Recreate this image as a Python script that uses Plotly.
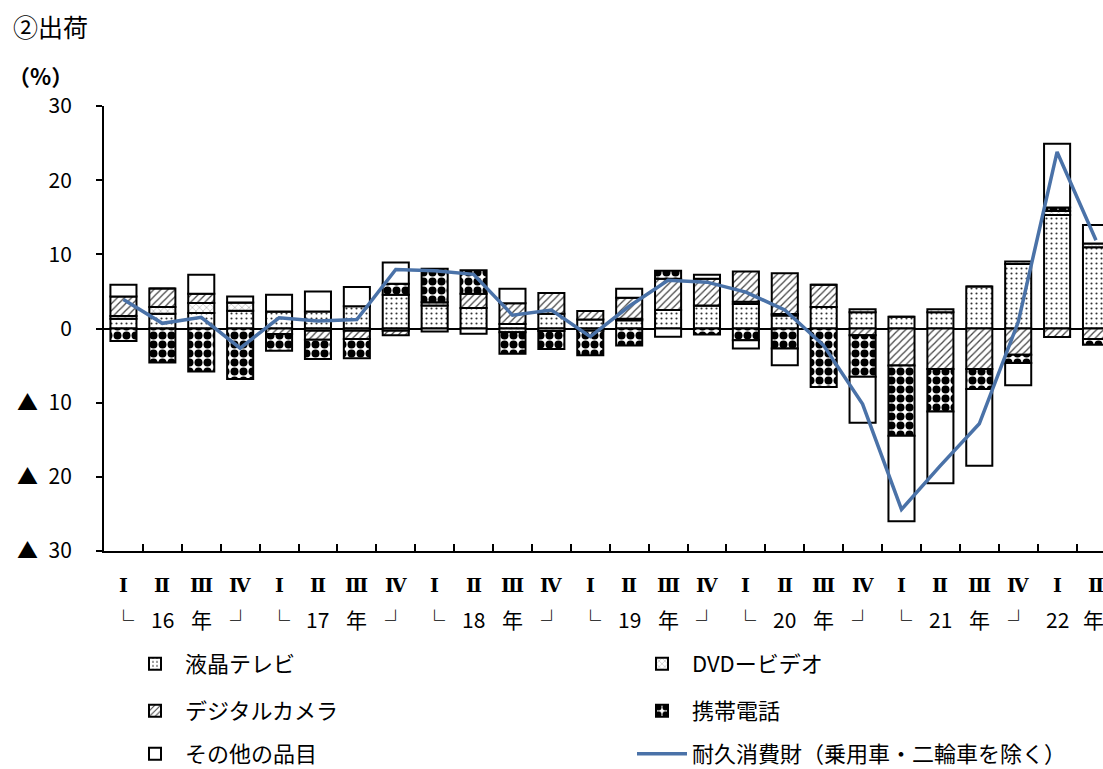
import plotly.graph_objects as go

# Quarters 2016 Q1 .. 2022 Q2
quarters = ["Ⅰ", "Ⅱ", "Ⅲ", "Ⅳ"] * 6 + ["Ⅰ", "Ⅱ"]
years = ["16", "17", "18", "19", "20", "21", "22"]

# Contribution by item (percentage points)
lcd_tv = [1.3, 2.0, 2.1, 2.4, 2.3, 2.3, 3.0, 4.55, 3.1, 2.75, 0.6, 2.0, 1.2,
          1.1, 2.5, 3.1, 3.3, 1.75, 2.9, 2.2, 1.6, 2.2, 5.65, 8.7, 15.3, 10.95]
dvd_video = [0.4, 0.9, 1.35, 1.1, 0.0, -0.3, -0.3, -0.3, 0.45, 0.0, -0.5, -0.35, -0.3,
             0.2, 0.0, 0.0, 0.3, 0.2, 0.0, 0.4, 0.0, 0.4, 0.0, 0.35, 0.55, 0.5]
digital_camera = [2.6, 2.5, 1.25, 0.0, -0.75, -1.2, -1.1, -0.6, 0.0, 1.95, 2.8, 2.8, 1.15,
                  2.85, 4.2, 3.6, 4.1, 5.5, 3.0, -0.9, -5.0, -5.45, -5.45, -3.55, -1.15, -1.4]
mobile_phone = [-1.7, -4.6, -5.8, -6.8, -2.25, -2.6, -2.6, 1.5, 4.5, 3.15, -2.9, -2.4, -3.3,
                -2.3, 1.1, -0.8, -1.6, -2.7, -7.9, -5.6, -9.45, -5.75, -2.7, -1.1, 0.45, -0.8]
other_items = [1.6, 0.0, 2.55, 0.8, 2.25, 2.7, 2.6, 2.85, -0.4, -0.7, 1.95, 0.0, 0.0,
               1.2, -1.1, 0.55, -1.1, -2.25, 0.0, -6.2, -11.55, -9.65, -10.35, -3.0, 8.6, 2.5]

# Durable consumer goods (excluding passenger cars and motorcycles), % change
durables = [3.9, 0.7, 1.5, -2.65, 1.45, 1.0, 1.2, 7.95, 7.8, 7.3, 1.8, 2.5, -1.1,
            3.0, 6.5, 6.25, 4.9, 2.5, -2.3, -10.2, -24.4, -18.5, -12.85, 0.85, 23.8, 11.9]

y_ticks = [30, 20, 10, 0, -10, -20, -30]
y_ticktext = ["30", "20", "10", "0", "▲\u200210", "▲\u200220", "▲\u200230"]

x = list(range(len(quarters)))

FONT = "Noto Sans CJK JP"
LINE_BLUE = "#4A72A8"
W, H = 1103, 769

series = [
    ("液晶テレビ", lcd_tv, dict(shape=".", size=5, solidity=0.14, fgcolor="#333333"), "legend"),
    ("DVDービデオ", dvd_video, dict(shape="x", size=5, solidity=0.12, fgcolor="#555555"), "legend2"),
    ("デジタルカメラ", digital_camera, dict(shape="/", size=5, solidity=0.25, fgcolor="#444444"), "legend3"),
    ("携帯電話", mobile_phone, dict(shape=".", size=9, solidity=0.62, fgcolor="black"), "legend4"),
    ("その他の品目", other_items, None, "legend5"),
]

fig = go.Figure()
for name, vals, pat, leg in series:
    marker = dict(color="white", line=dict(color="black", width=2))
    if pat is not None:
        marker["pattern"] = dict(bgcolor="white", fillmode="replace", **pat)
    fig.add_trace(go.Bar(x=x, y=vals, name=name, marker=marker, legend=leg))

fig.add_trace(go.Scatter(
    x=x, y=durables, mode="lines", name="耐久消費財（乗用車・二輪車を除く）",
    line=dict(color=LINE_BLUE, width=3.5), legend="legend6",
))

# Quarter and year labels under the axis
annotations = []
for i, q in enumerate(quarters):
    annotations.append(dict(
        x=i, y=-0.0764, xref="x", yref="paper", text=q, showarrow=False,
        xanchor="center", yanchor="middle",
        font=dict(family="DejaVu Serif, " + FONT, size=19, color="black", weight="bold"),
    ))
for k, yr in enumerate(years):
    base = 4 * k
    if k < len(years) - 1:
        parts = [(base, "└"), (base + 1, yr), (base + 2, "年"), (base + 3, "┘")]
    else:
        # last (partial) year: keep the trailing 年 inside the canvas
        parts = [(base, yr), (base + 0.94, "年")]
    for pos, txt in parts:
        annotations.append(dict(
            x=pos, y=-0.1528, xref="x", yref="paper", text=txt, showarrow=False,
            xanchor="center", yanchor="middle",
            font=dict(family=FONT, size=21, color="black"),
        ))

annotations.append(dict(
    x=-0.093, y=1.18, xref="paper", yref="paper", text="②出荷", showarrow=False,
    xanchor="left", yanchor="middle", font=dict(family=FONT, size=25, color="black"),
))
annotations.append(dict(
    x=-0.098, y=1.07, xref="paper", yref="paper", text="（%）", showarrow=False,
    xanchor="left", yanchor="middle",
    font=dict(family=FONT, size=22, color="black", weight="bold"),
))

# One legend per entry, laid out as two columns and three rows
legend_cols = [125, 632]
legend_rows = [664, 711, 754]
legend_layout = {}
for n in range(6):
    key = "legend" if n == 0 else f"legend{n + 1}"
    legend_layout[key] = dict(
        xref="container", yref="container",
        x=legend_cols[n % 2] / W, y=1 - legend_rows[n // 2] / H,
        xanchor="left", yanchor="middle", itemwidth=50,
        font=dict(family=FONT, size=22, color="black"),
        bgcolor="rgba(0,0,0,0)", borderwidth=0,
    )

fig.update_layout(
    width=W, height=H, showlegend=True,
    margin=dict(l=104, r=0, t=106, b=218, autoexpand=False),
    paper_bgcolor="white", plot_bgcolor="white",
    barmode="relative", bargap=0.33,
    font=dict(family=FONT, color="black"),
    annotations=annotations,
    **legend_layout,
    xaxis=dict(
        range=[-0.5, 25.18], showgrid=False, zeroline=False,
        showline=True, linecolor="black", linewidth=2,
        tickvals=x, showticklabels=False, ticks="",
        minor=dict(tickvals=[i + 0.5 for i in x], ticks="inside", ticklen=7,
                   tickwidth=2, tickcolor="black", showgrid=False),
    ),
    yaxis=dict(
        range=[-30, 30], tickvals=y_ticks, ticktext=y_ticktext,
        showgrid=False, zeroline=True, zerolinecolor="black", zerolinewidth=1.5,
        showline=True, linecolor="black", linewidth=2,
        ticks="outside", ticklen=6, tickwidth=2, tickcolor="black",
        ticklabelstandoff=20,
        tickfont=dict(family=FONT, size=21, color="black"),
    ),
)

fig.write_html("out.html")
